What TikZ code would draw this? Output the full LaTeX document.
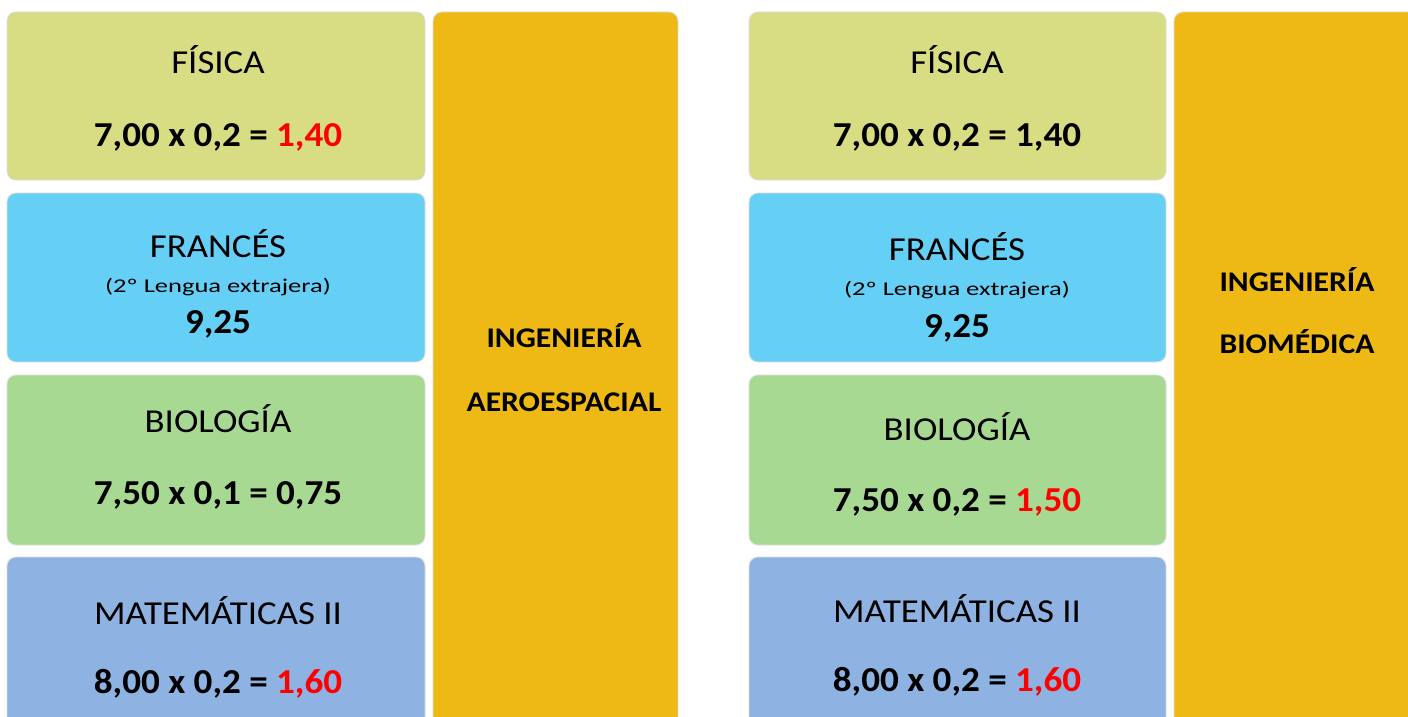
\documentclass[tikz,border=0pt]{standalone}
\usepackage{fontspec}
\setmainfont{Carlito}
\newfontfamily\fuentetit{Carlito}[FakeStretch=1.1]
\newfontfamily\fuentenota{Carlito}[FakeStretch=1.36]
\newfontfamily\fuentecta{Carlito}[FakeStretch=1.06]
\newfontfamily\fuentegrado{Carlito}[FakeStretch=1.11]
\usetikzlibrary{calc}
\definecolor{fisica}{HTML}{D8DC82}
\definecolor{frances}{HTML}{66CFF5}
\definecolor{biologia}{HTML}{A7D993}
\definecolor{mates}{HTML}{8EB3E2}
\definecolor{ingen}{HTML}{EEB914}
\definecolor{borde}{HTML}{DDDDDD}
\definecolor{rojo}{HTML}{FF0000}
\tikzset{
  caja/.style={fill=#1, draw=borde, line width=0.8pt, rounded corners=9pt},
  titulo/.style={font=\fuentetit\fontsize{33.5}{40}\selectfont, inner sep=0pt, anchor=base},
  nota/.style={font=\fuentenota\fontsize{19.5}{24}\selectfont, inner sep=0pt, anchor=base},
  cuenta/.style={font=\fuentecta\fontsize{35}{42}\selectfont\bfseries, inner sep=0pt, anchor=base},
  grado/.style={font=\fuentegrado\fontsize{28.5}{34}\selectfont\bfseries, inner sep=0pt, anchor=base},
}
\begin{document}
\begin{tikzpicture}[x=1pt,y=-1pt]
\useasboundingbox (0,0) rectangle (1408,717);
\clip (0,0) rectangle (1408,717);
% izquierda
\draw[caja=fisica] (7,12) rectangle (425,180);
\draw[caja=frances] (7,193) rectangle (425,362);
\draw[caja=biologia] (7,375) rectangle (425,545);
\draw[caja=mates] (7,557) rectangle (425,740);
\draw[caja=ingen] (433,12) rectangle (678,740);
\node[titulo] (fis1) at (218,74) {FÍSICA};
\node[cuenta] (fisc1) at (218,146) {7,00 x 0,2 = \textcolor{rojo}{1,40}};
\node[titulo] (fra1) at (218,257) {FRANCÉS};
\node[nota] (fran1) at (218,292) {(2º Lengua extrajera)};
\node[cuenta] (frac1) at (218,333) {9,25};
\node[titulo] (bio1) at (218,432) {BIOLOGÍA};
\node[cuenta] (bioc1) at (218,504) {7,50 x 0,1 = 0,75};
\node[titulo] (mat1) at (218,624) {MATEMÁTICAS II};
\node[cuenta] (matc1) at (218,693) {8,00 x 0,2 = \textcolor{rojo}{1,60}};
\node[grado] (ing1) at (564,347) {INGENIERÍA};
\node[grado] (aer1) at (564,411) {AEROESPACIAL};
% derecha
\draw[caja=fisica] (749,12) rectangle (1166,180);
\draw[caja=frances] (749,193) rectangle (1166,362);
\draw[caja=biologia] (749,375) rectangle (1166,545);
\draw[caja=mates] (749,557) rectangle (1166,740);
\draw[caja=ingen] (1174,12) rectangle (1430,740);
\node[titulo] (fis2) at (957,74) {FÍSICA};
\node[cuenta] (fisc2) at (957,146) {7,00 x 0,2 = 1,40};
\node[titulo] (fra2) at (957,260) {FRANCÉS};
\node[nota] (fran2) at (957,295) {(2º Lengua extrajera)};
\node[cuenta] (frac2) at (957,337) {9,25};
\node[titulo] (bio2) at (957,440) {BIOLOGÍA};
\node[cuenta] (bioc2) at (957,511) {7,50 x 0,2 = \textcolor{rojo}{1,50}};
\node[titulo] (mat2) at (957,622) {MATEMÁTICAS II};
\node[cuenta] (matc2) at (957,691) {8,00 x 0,2 = \textcolor{rojo}{1,60}};
\node[grado] (ing2) at (1297,291) {INGENIERÍA};
\node[grado] (bme2) at (1297,353) {BIOMÉDICA};
\end{tikzpicture}
\end{document}
